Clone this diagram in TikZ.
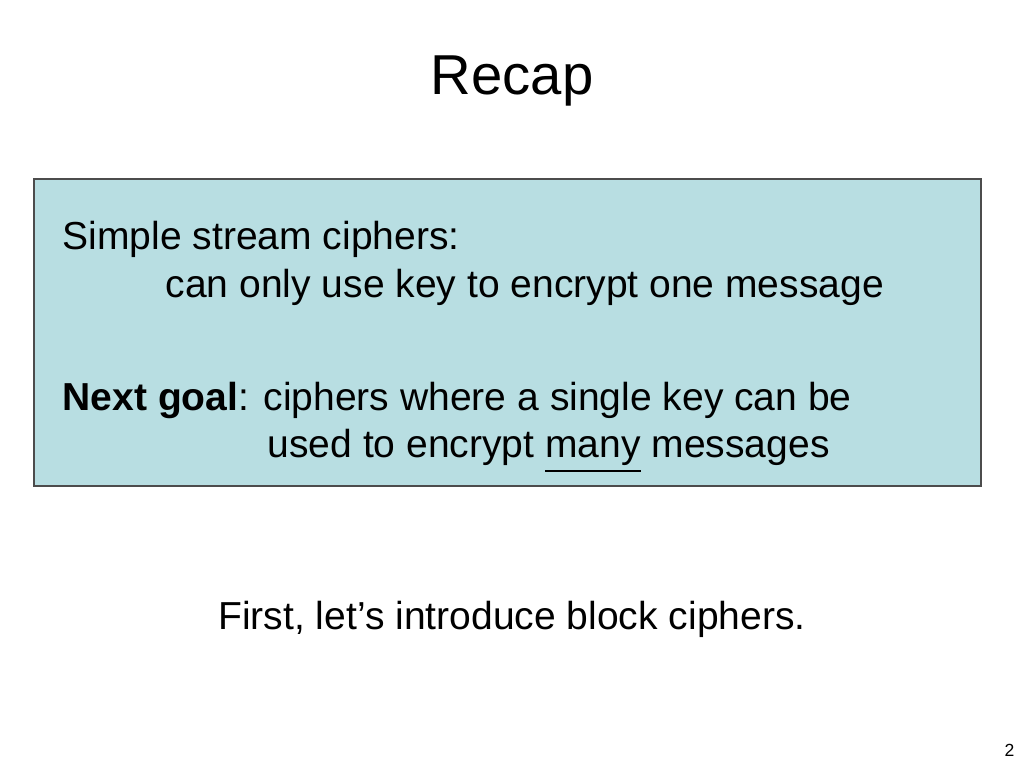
\documentclass[tikz,border=0pt]{standalone}
\usepackage{fontspec}
\setmainfont{Liberation Sans}
\definecolor{boxblue}{RGB}{184,222,226}
\tikzset{
  body/.style={anchor=base west, inner sep=0pt, font=\fontsize{11.1pt}{13pt}\selectfont},
  title/.style={anchor=base, inner sep=0pt, font=\fontsize{16pt}{19pt}\selectfont}
}
\begin{document}
\begin{tikzpicture}[x=0.01cm,y=-0.01cm]
  \useasboundingbox (0,0) rectangle (1024,768);
  \node[title] (title) at (512,95) {Recap};
  % recap box
  \draw[fill=boxblue, draw=black!70, line width=0.4pt] (34,179) rectangle (981,486);
  \node[body] (simple) at (62,250) {Simple stream ciphers:};
  \node[body] (once) at (165,298) {can only use key to encrypt one message};
  \node[body] (goal) at (62,411) {\textbf{Next goal}: ciphers where a single key can be};
  \node[body] (many) at (267,458) {used to encrypt \underline{many} messages};
  \node[title, font=\fontsize{11.1pt}{13pt}\selectfont] (first) at (512,630) {First, let’s introduce block ciphers.};
  \node[anchor=base east, inner sep=0pt, font=\fontsize{5pt}{6pt}\selectfont] (page) at (1015,757) {2};
\end{tikzpicture}
\end{document}
